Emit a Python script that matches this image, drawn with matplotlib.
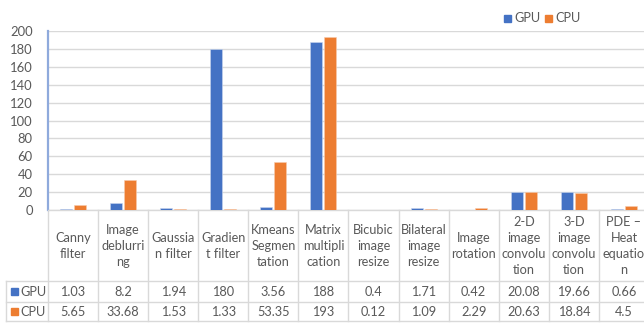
import matplotlib
matplotlib.use("Agg")
import matplotlib.pyplot as plt
import matplotlib.transforms as mtransforms
from matplotlib.patches import Rectangle
from matplotlib.lines import Line2D
import numpy as np

categories = [
    "Canny\nfilter", "Image\ndeblurri\nng", "Gaussia\nn filter", "Gradien\nt filter",
    "Kmeans\nSegmen\ntation", "Matrix\nmultipli\ncation", "Bicubic\nimage\nresize",
    "Bilateral\nimage\nresize", "Image\nrotation", "2-D\nimage\nconvolu\ntion",
    "3-D\nimage\nconvolu\ntion", "PDE \u2013\nHeat\nequatio\nn",
]
gpu_label = ["1.03", "8.2", "1.94", "180", "3.56", "188", "0.4", "1.71", "0.42", "20.08", "19.66", "0.66"]
cpu_label = ["5.65", "33.68", "1.53", "1.33", "53.35", "193", "0.12", "1.09", "2.29", "20.63", "18.84", "4.5"]
gpu = [float(v) for v in gpu_label]
cpu = [float(v) for v in cpu_label]
series_names = ["GPU", "CPU"]
y_ticks = [0, 20, 40, 60, 80, 100, 120, 140, 160, 180, 200]

GPU_C = "#4472C4"
CPU_C = "#ED7D31"
GRID = "#D9D9D9"
TXT = "#595959"
FONT = ["Lato", "DejaVu Sans"]
FS = 9.2

W, H = 644, 323
fig = plt.figure(figsize=(W / 100, H / 100), dpi=100)
plt.rcParams["font.family"] = FONT


def fy(py):
    return 1 - py / H


def fx(px):
    return px / W


left_px, right_px, top_px, base_px = 48, 649, 31, 210
ax = fig.add_axes([fx(left_px), fy(base_px), (right_px - left_px) / W, (base_px - top_px) / H])

x = np.arange(len(categories))
ax.bar(x - 0.14, gpu, width=0.24, color=GPU_C, edgecolor="#C9D6EE", linewidth=0.4, zorder=3)
ax.bar(x + 0.14, cpu, width=0.24, color=CPU_C, edgecolor="#F8CBAD", linewidth=0.4, zorder=3)

ax.set_xlim(-0.5, len(categories) - 0.5)
ax.set_ylim(0, 200)
ax.set_yticks(y_ticks)
ax.set_yticklabels([str(t) for t in y_ticks], color=TXT, fontsize=9.4)
ax.tick_params(axis="y", length=0, pad=11)
ax.set_xticks([])
ax.yaxis.grid(True, color=GRID, linewidth=1)
ax.set_axisbelow(True)
for s in ["top", "right"]:
    ax.spines[s].set_visible(False)
ax.spines["bottom"].set_color(GRID)
ax.spines["bottom"].set_linewidth(1)
ax.spines["left"].set_color("#8FAADC")
ax.spines["left"].set_linewidth(1.6)

# data table under the plot
tr = mtransforms.blended_transform_factory(ax.transData, fig.transFigure)
row_gpu, row_cpu, row_end = 281, 302, 321
for i in range(len(categories) + 1):
    ax.add_artist(Line2D([i - 0.5, i - 0.5], [fy(base_px), fy(row_end)], transform=tr,
                         color=GRID, lw=1, clip_on=False))
for yy in (row_gpu, row_cpu, row_end):
    fig.add_artist(Line2D([fx(6), fx(right_px)], [fy(yy), fy(yy)], color=GRID, lw=1))
fig.add_artist(Line2D([fx(6), fx(6)], [fy(row_gpu), fy(row_end)], color=GRID, lw=1))

for i, cat in enumerate(categories):
    ax.text(i, fy((base_px + row_gpu) / 2 + 0.5), cat, transform=tr, ha="center", va="center",
            fontsize=FS, color=TXT, linespacing=1.42, clip_on=False)
    ax.text(i, fy((row_gpu + row_cpu) / 2), gpu_label[i], transform=tr, ha="center",
            va="center", fontsize=FS, color=TXT, clip_on=False)
    ax.text(i, fy((row_cpu + row_end) / 2), cpu_label[i], transform=tr, ha="center",
            va="center", fontsize=FS, color=TXT, clip_on=False)

for name, col, (r0, r1) in zip(series_names, [GPU_C, CPU_C], [(row_gpu, row_cpu), (row_cpu, row_end)]):
    yc = (r0 + r1) / 2
    fig.add_artist(Rectangle((fx(11), fy(yc + 3.5)), 7 / W, 7 / H, color=col))
    fig.text(fx(20), fy(yc), name, ha="left", va="center", fontsize=FS, color=TXT)

# legend
for name, col, px in zip(series_names, [GPU_C, CPU_C], [504, 545]):
    fig.add_artist(Rectangle((fx(px), fy(22)), 7 / W, 7 / H, color=col))
    fig.text(fx(px + 10), fy(18.5), name, ha="left", va="center", fontsize=FS, color=TXT)

fig.savefig("out.png", dpi=100)
